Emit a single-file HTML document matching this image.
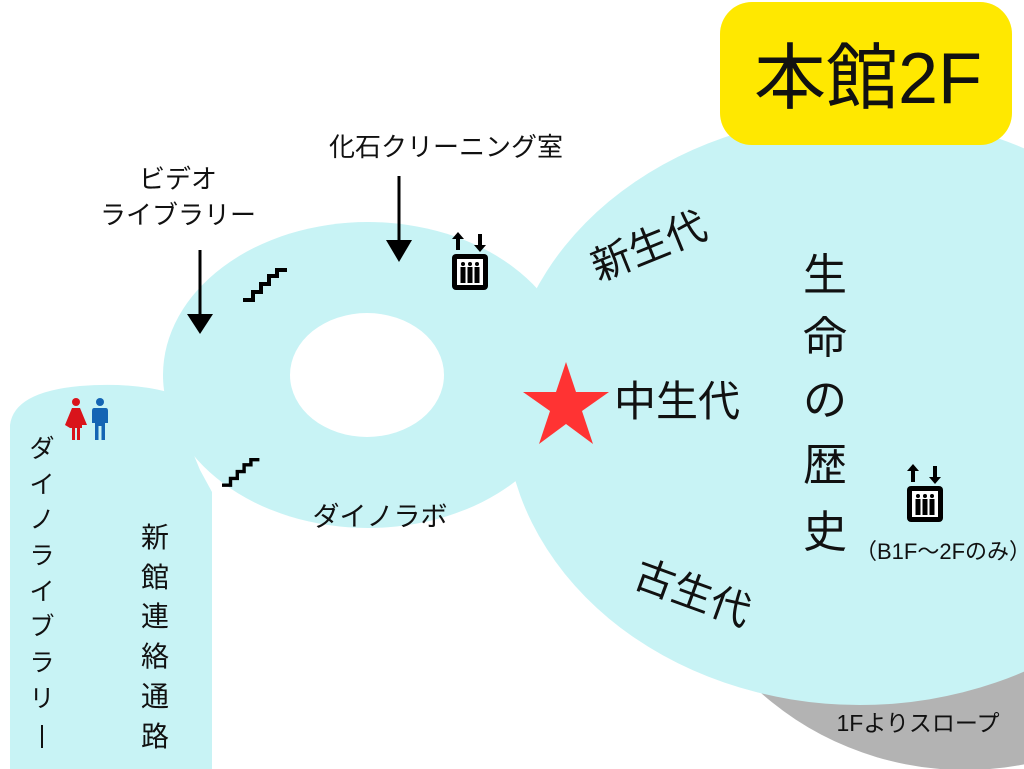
<!DOCTYPE html>
<html><head><meta charset="utf-8"><style>
html,body{margin:0;padding:0;background:#fff;}
svg{display:block;}
text{font-family:"Liberation Sans","Noto Sans CJK JP",sans-serif;fill:#111;}
</style></head><body>
<svg width="1024" height="769" viewBox="0 0 1024 769" xmlns="http://www.w3.org/2000/svg">
<defs>
<g id="elev">
  <path d="M8,2 L2,9 H6 V20 H10 V9 H14 Z" fill="#000"/>
  <path d="M30,22 L24,15 H28 V4 H32 V15 H36 Z" fill="#000"/>
  <rect x="2" y="24" width="36" height="36" rx="4" fill="#000"/>
  <rect x="7" y="29" width="26" height="26" fill="#fff"/>
  <g fill="#000">
    <circle cx="13" cy="34" r="2"/><rect x="10.5" y="37" width="5" height="16"/>
    <circle cx="20" cy="34" r="2"/><rect x="17.5" y="37" width="5" height="16"/>
    <circle cx="27" cy="34" r="2"/><rect x="24.5" y="37" width="5" height="16"/>
  </g>
</g>
<path id="stair" d="M0,30 H8 V22 H16 V14 H24 V6 H32 V0 H44 V4 H36 V10 H28 V18 H20 V26 H12 V34 H0 Z" fill="#000"/>
</defs>
<!-- gray slope -->
<ellipse cx="965" cy="470" rx="305" ry="300" fill="#b3b3b3"/>
<!-- big ellipse -->
<ellipse cx="860" cy="410" rx="355" ry="295" fill="#c8f3f5"/>
<!-- ring -->
<ellipse cx="368" cy="375" rx="205" ry="153" fill="#c8f3f5"/>
<!-- corridor -->
<path d="M10,769 L10,425 Q14,392 80,386 Q130,382 168,392 L200,470 L212,492 L212,769 Z" fill="#c8f3f5"/>
<ellipse cx="367" cy="375" rx="77" ry="62" fill="#fff"/>
<!-- yellow title -->
<rect x="720" y="2" width="292" height="143" rx="32" fill="#ffe800"/>
<text x="868" y="103" font-size="72" text-anchor="middle">本館2F</text>
<!-- labels top -->
<text x="446" y="156" font-size="26" text-anchor="middle">化石クリーニング室</text>
<text x="178" y="188" font-size="26" text-anchor="middle">ビデオ</text>
<text x="178" y="224" font-size="26" text-anchor="middle">ライブラリー</text>
<!-- arrows -->
<line x1="200" y1="250" x2="200" y2="318" stroke="#000" stroke-width="3"/>
<path d="M187,314 H213 L200,334 Z" fill="#000"/>
<line x1="399" y1="176" x2="399" y2="244" stroke="#000" stroke-width="3"/>
<path d="M386,240 H412 L399,262 Z" fill="#000"/>
<!-- stairs -->
<use href="#stair" transform="translate(243,268)"/>
<use href="#stair" transform="translate(222,458) scale(0.85)"/>
<!-- elevators -->
<use href="#elev" transform="translate(450,230)"/>
<use href="#elev" transform="translate(905,462)"/>
<!-- restroom -->
<g fill="#d9141b"><circle cx="76" cy="402" r="4"/><path d="M72,408 H80 L87,425 H82 V428 L80,428 V440 H77 V428 H75 V440 H72 V428 H70 L65,425 Z"/></g>
<g fill="#1465b4"><circle cx="100" cy="402" r="4"/><path d="M94,408 H106 Q108,408 108,411 V423 H105 V440 H101.5 V426 H98.5 V440 H95 V423 H92 V411 Q92,408 94,408 Z"/></g>
<!-- star -->
<polygon points="566,362 576,392 609,392 582,411 593,444 566,424 539,444 550,411 523,392 556,392" fill="#ff3333"/>
<text x="614" y="416" font-size="42">中生代</text>
<text x="0" y="0" font-size="40" text-anchor="middle" transform="translate(654,259) rotate(-22)">新生代</text>
<text x="0" y="0" font-size="40" text-anchor="middle" transform="translate(688,606) rotate(20)">古生代</text>
<g font-size="44" text-anchor="middle">
<text x="825" y="290">生</text><text x="825" y="353">命</text><text x="825" y="415">の</text><text x="825" y="480">歴</text><text x="825" y="547">史</text>
</g>
<text x="943" y="559" font-size="22" text-anchor="middle">（B1F〜2Fのみ）</text>
<text x="918" y="731" font-size="23" text-anchor="middle">1Fよりスロープ</text>
<text x="380" y="526" font-size="27" text-anchor="middle">ダイノラボ</text>
<g font-size="25" text-anchor="middle">
<text x="42" y="457">ダ</text><text x="42" y="493">イ</text><text x="42" y="528">ノ</text><text x="42" y="564">ラ</text><text x="42" y="600">イ</text><text x="42" y="635">ブ</text><text x="42" y="671">ラ</text><text x="42" y="707">リ</text><text x="42" y="743">|</text>
</g>
<g font-size="28" text-anchor="middle">
<text x="155" y="547">新</text><text x="155" y="587">館</text><text x="155" y="626">連</text><text x="155" y="666">絡</text><text x="155" y="706">通</text><text x="155" y="746">路</text>
</g>
</svg>
</body></html>
